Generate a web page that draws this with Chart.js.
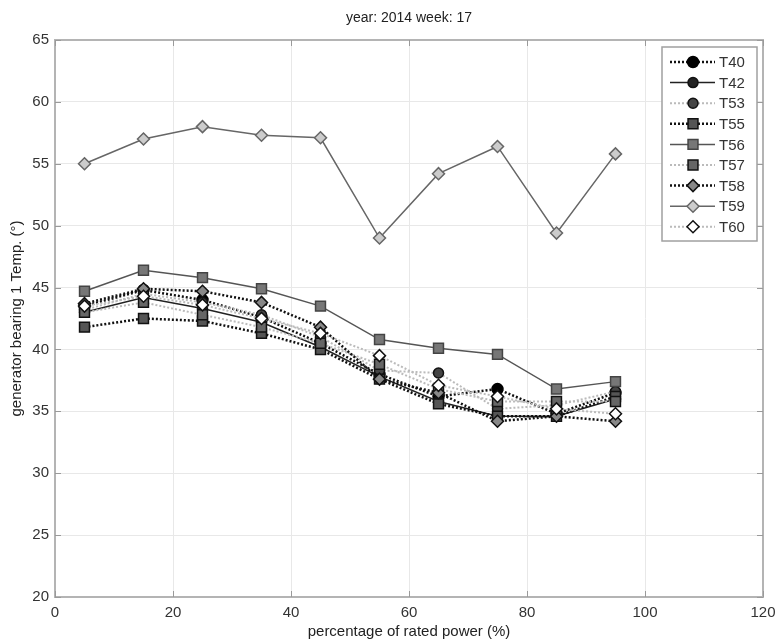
<!DOCTYPE html>
<html>
<head>
<meta charset="utf-8">
<script src="https://cdn.jsdelivr.net/npm/chart.js@4/dist/chart.umd.min.js"></script>
<style>
html,body{margin:0;padding:0;background:#fff;}
#wrap{width:778px;height:643px;position:relative;}
</style>
</head>
<body>
<div id="wrap"><canvas id="c" width="778" height="643"></canvas></div>
<script>
const xValues = [5, 15, 25, 35, 45, 55, 65, 75, 85, 95];
const seriesNames = ['T40','T42','T53','T55','T56','T57','T58','T59','T60'];
const T40 = [43.5, 44.8, 44.0, 42.6, 40.5, 38.0, 36.2, 36.8, 34.8, 36.5];
const T42 = [43.0, 44.2, 43.3, 42.2, 40.2, 37.8, 35.8, 34.6, 34.6, 36.0];
const T53 = [43.2, 44.5, 43.8, 42.8, 41.0, 38.3, 38.1, 35.2, 35.5, 36.6];
const T55 = [41.8, 42.5, 42.3, 41.3, 40.0, 37.6, 35.6, 34.6, 34.6, 36.2];
const T56 = [44.7, 46.4, 45.8, 44.9, 43.5, 40.8, 40.1, 39.6, 36.8, 37.4];
const T57 = [43.0, 43.8, 42.8, 41.8, 40.5, 38.8, 36.8, 35.8, 35.8, 35.8];
const T58 = [43.7, 44.9, 44.7, 43.8, 41.8, 37.6, 36.5, 34.2, 34.6, 34.2];
const T59 = [55.0, 57.0, 58.0, 57.3, 57.1, 49.0, 54.2, 56.4, 49.4, 55.8];
const T60 = [43.5, 44.3, 43.6, 42.5, 41.3, 39.5, 37.1, 36.2, 35.2, 34.8];
const seriesValues = [T40, T42, T53, T55, T56, T57, T58, T59, T60];
const xTicks = [0, 20, 40, 60, 80, 100, 120];
const yTicks = [20, 25, 30, 35, 40, 45, 50, 55, 60, 65];
const titleText = 'year: 2014 week: 17';
const xTitle = 'percentage of rated power (%)';
const yTitle = 'generator bearing 1 Temp. (°)';

const styles = [
  {line:'#111111', dash:[2,2], lw:2.5, shape:'circle', fill:'#000000', edge:'#000000', r:5.5},
  {line:'#222222', dash:[],    lw:1.5, shape:'circle', fill:'#222222', edge:'#111111', r:5},
  {line:'#bbbbbb', dash:[2,2], lw:2,   shape:'circle', fill:'#444444', edge:'#111111', r:5},
  {line:'#111111', dash:[2,2], lw:2.5, shape:'rect',   fill:'#555555', edge:'#111111', r:7},
  {line:'#555555', dash:[],    lw:1.5, shape:'rect',   fill:'#777777', edge:'#444444', r:7},
  {line:'#bbbbbb', dash:[2,2], lw:2,   shape:'rect',   fill:'#666666', edge:'#111111', r:7},
  {line:'#111111', dash:[2,2], lw:2.5, shape:'rectRot',fill:'#888888', edge:'#111111', r:6},
  {line:'#666666', dash:[],    lw:1.5, shape:'rectRot',fill:'#cccccc', edge:'#666666', r:6},
  {line:'#bbbbbb', dash:[2,2], lw:2,   shape:'rectRot',fill:'#ffffff', edge:'#111111', r:6}
];

const FONT = '"Liberation Sans", Arial, sans-serif';

const datasets = seriesNames.map((name, i) => ({
  label: name,
  data: xValues.map((x, j) => ({x: x, y: seriesValues[i][j]})),
  borderColor: styles[i].line,
  borderDash: styles[i].dash,
  borderWidth: styles[i].lw,
  pointStyle: styles[i].shape,
  pointRadius: styles[i].r,
  pointBackgroundColor: styles[i].fill,
  pointBorderColor: styles[i].edge,
  pointBorderWidth: 1.5,
  fill: false,
  tension: 0,
  order: seriesNames.length - i
}));

const decorPlugin = {
  id: 'decor',
  afterDraw(chart) {
    const ctx = chart.ctx;
    const a = chart.chartArea;
    const xs = chart.scales.x, ys = chart.scales.y;
    ctx.save();
    ctx.strokeStyle = '#b4b4b4';
    ctx.lineWidth = 2;
    ctx.setLineDash([]);
    ctx.strokeRect(a.left, a.top, a.right - a.left, a.bottom - a.top);
    ctx.lineWidth = 1;
    ctx.strokeStyle = '#9a9a9a';
    xTicks.forEach(v => {
      const px = Math.round(xs.getPixelForValue(v)) + 0.5;
      ctx.beginPath();
      ctx.moveTo(px, a.bottom); ctx.lineTo(px, a.bottom - 6);
      ctx.moveTo(px, a.top); ctx.lineTo(px, a.top + 6);
      ctx.stroke();
    });
    yTicks.forEach(v => {
      const py = Math.round(ys.getPixelForValue(v)) + 0.5;
      ctx.beginPath();
      ctx.moveTo(a.left, py); ctx.lineTo(a.left + 6, py);
      ctx.moveTo(a.right, py); ctx.lineTo(a.right - 6, py);
      ctx.stroke();
    });
    ctx.fillStyle = '#222';
    ctx.textAlign = 'center';
    ctx.textBaseline = 'middle';
    ctx.font = '14px ' + FONT;
    ctx.fillText(titleText, (a.left + a.right) / 2, 18);
    ctx.font = '15px ' + FONT;
    ctx.fillText(xTitle, (a.left + a.right) / 2, 632);
    ctx.save();
    ctx.translate(17, (a.top + a.bottom) / 2);
    ctx.rotate(-Math.PI / 2);
    ctx.fillText(yTitle, 0, 0);
    ctx.restore();

    const lx = 662, ly = 47, lw = 95, lh = 194;
    ctx.fillStyle = '#ffffff';
    ctx.fillRect(lx, ly, lw, lh);
    ctx.strokeStyle = '#a0a0a0';
    ctx.lineWidth = 1.5;
    ctx.strokeRect(lx, ly, lw, lh);
    chart.data.datasets.forEach((ds, i) => {
      const y = 62 + i * 20.6;
      ctx.save();
      ctx.strokeStyle = ds.borderColor;
      ctx.lineWidth = ds.borderWidth;
      ctx.setLineDash(ds.borderDash);
      ctx.beginPath();
      ctx.moveTo(670, y); ctx.lineTo(715, y);
      ctx.stroke();
      ctx.setLineDash([]);
      ctx.fillStyle = ds.pointBackgroundColor;
      ctx.strokeStyle = ds.pointBorderColor;
      ctx.lineWidth = ds.pointBorderWidth;
      Chart.helpers.drawPoint(ctx, {pointStyle: ds.pointStyle, radius: ds.pointRadius, rotation: 0, borderWidth: ds.pointBorderWidth}, 693, y);
      ctx.restore();
      ctx.fillStyle = '#333';
      ctx.font = '15px ' + FONT;
      ctx.textAlign = 'left';
      ctx.textBaseline = 'middle';
      ctx.fillText(ds.label, 719, y + 1);
    });
    ctx.restore();
  }
};

new Chart(document.getElementById('c'), {
  type: 'line',
  data: { datasets: datasets },
  options: {
    responsive: false,
    animation: false,
    layout: { padding: { top: 40, right: 15, left: 0, bottom: 0 } },
    plugins: { legend: { display: false }, title: { display: false }, tooltip: { enabled: false } },
    scales: {
      x: {
        type: 'linear', min: 0, max: 120,
        afterFit(s) { s.height = 46; s.paddingRight = 0; s.paddingLeft = 0; },
        afterBuildTicks(s) { s.ticks = xTicks.map(v => ({value: v})); },
        grid: { color: '#e8e8e8', lineWidth: 1, drawTicks: false },
        border: { display: false },
        ticks: { padding: 7, color: '#333', font: { family: FONT, size: 15 }, maxRotation: 0 }
      },
      y: {
        type: 'linear', min: 20, max: 65,
        afterFit(s) { s.width = 55; },
        afterBuildTicks(s) { s.ticks = yTicks.map(v => ({value: v})); },
        grid: { color: '#e8e8e8', lineWidth: 1, drawTicks: false },
        border: { display: false },
        ticks: { padding: 6, color: '#333', font: { family: FONT, size: 15 } }
      }
    }
  },
  plugins: [decorPlugin]
});
</script>
</body>
</html>
